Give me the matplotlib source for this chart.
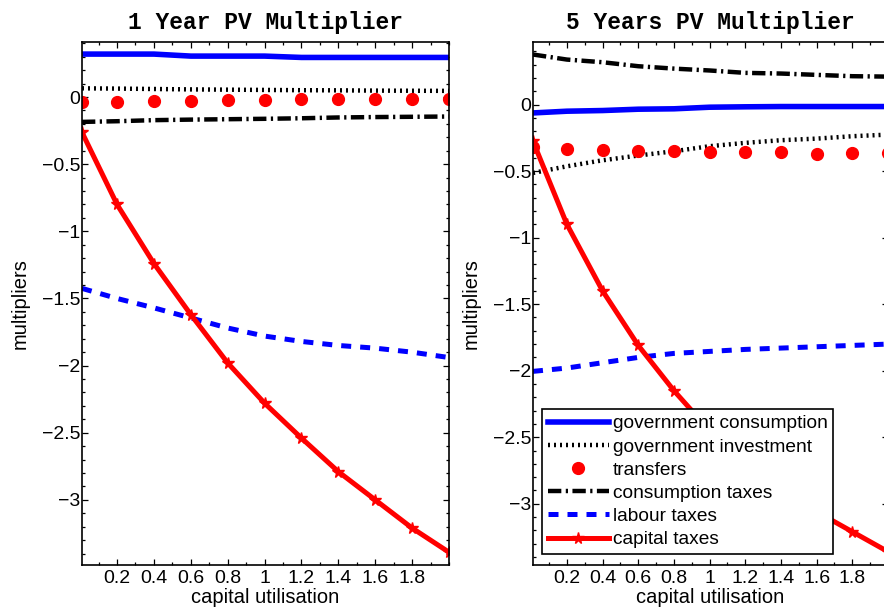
import matplotlib
matplotlib.use("Agg")
import matplotlib.pyplot as plt
from matplotlib.ticker import MultipleLocator, FixedLocator, FuncFormatter

plt.rcParams['font.family'] = ['Liberation Sans', 'DejaVu Sans']

# capital utilisation grid
util = [0.01, 0.2, 0.4, 0.6, 0.8, 1.0, 1.2, 1.4, 1.6, 1.8, 2.0]

# 1 year present-value multipliers
gov_cons_1y = [0.32, 0.32, 0.32, 0.305, 0.305, 0.305, 0.295, 0.295, 0.295, 0.295, 0.295]
gov_inv_1y = [0.065, 0.063, 0.06, 0.057, 0.055, 0.053, 0.051, 0.05, 0.048, 0.047, 0.046]
transfers_1y = [-0.035, -0.04, -0.03, -0.027, -0.022, -0.022, -0.017, -0.015, -0.015, -0.015, -0.017]
cons_tax_1y = [-0.185, -0.18, -0.172, -0.168, -0.165, -0.162, -0.158, -0.152, -0.149, -0.147, -0.145]
lab_tax_1y = [-1.425, -1.50, -1.57, -1.645, -1.72, -1.78, -1.82, -1.85, -1.87, -1.90, -1.94]
cap_tax_1y = [-0.263, -0.80, -1.24, -1.62, -1.98, -2.28, -2.54, -2.79, -3.00, -3.21, -3.39]

# 5 years present-value multipliers
gov_cons_5y = [-0.063, -0.05, -0.045, -0.035, -0.032, -0.02, -0.017, -0.015, -0.015, -0.015, -0.015]
gov_inv_5y = [-0.514, -0.464, -0.419, -0.383, -0.351, -0.313, -0.288, -0.268, -0.256, -0.238, -0.226]
transfers_5y = [-0.318, -0.333, -0.343, -0.35, -0.347, -0.358, -0.358, -0.358, -0.368, -0.363, -0.365]
cons_tax_5y = [0.376, 0.338, 0.318, 0.288, 0.27, 0.256, 0.238, 0.233, 0.223, 0.213, 0.21]
lab_tax_5y = [-2.005, -1.98, -1.94, -1.90, -1.87, -1.855, -1.84, -1.83, -1.82, -1.81, -1.80]
cap_tax_5y = [-0.276, -0.90, -1.40, -1.81, -2.15, -2.45, -2.70, -2.90, -3.06, -3.21, -3.36]

labels = ["government consumption", "government investment", "transfers",
          "consumption taxes", "labour taxes", "capital taxes"]
x_ticks = [0.2, 0.4, 0.6, 0.8, 1.0, 1.2, 1.4, 1.6, 1.8]
y_ticks = [0, -0.5, -1, -1.5, -2, -2.5, -3]

# '%g' labels with a proper minus sign
num_fmt = FuncFormatter(lambda v, pos: ('%g' % v).replace('-', '\u2212'))


def draw_panel(ax, series, title, ylim):
    gc, gi, tr, ct, lt, kt = series
    ax.plot(util, gc, color='blue', lw=4, label=labels[0])
    ax.plot(util, gi, color='black', lw=3.2, linestyle=(0, (0.45, 0.9)), label=labels[1])
    ax.plot(util, tr, color='red', linestyle='none', marker='o', ms=8.5, label=labels[2])
    ax.plot(util, ct, color='black', lw=3.2, linestyle=(0, (3.0, 1.0, 0.5, 1.0)), label=labels[3])
    ax.plot(util, lt, color='blue', lw=3.6, linestyle=(0, (2.0, 1.8)), label=labels[4])
    ax.plot(util, kt, color='red', lw=3.6, marker='*', ms=8.5, label=labels[5])

    ax.set_xlim(0.01, 2.0)
    ax.set_ylim(*ylim)
    ax.xaxis.set_major_locator(FixedLocator(x_ticks))
    ax.xaxis.set_minor_locator(MultipleLocator(0.1))
    ax.yaxis.set_major_locator(FixedLocator(y_ticks))
    ax.yaxis.set_minor_locator(MultipleLocator(0.1))
    ax.xaxis.set_major_formatter(num_fmt)
    ax.yaxis.set_major_formatter(num_fmt)
    ax.tick_params(which='both', direction='in', top=True, right=True,
                   labelsize=14, width=0.9, colors='black')
    ax.tick_params(axis='y', which='both', pad=1)
    ax.tick_params(axis='x', which='both', pad=3.5)
    ax.tick_params(which='major', length=4.5)
    ax.tick_params(which='minor', length=2.3)
    for sp in ax.spines.values():
        sp.set_linewidth(1.2)
    ax.set_title(title, family='Liberation Mono', weight='bold', fontsize=16.5, pad=9)
    ax.set_xlabel("capital utilisation", fontsize=14.5, labelpad=1)
    ax.set_ylabel("multipliers", fontsize=14.5, labelpad=9)


fig = plt.figure(figsize=(8.84, 6.09), dpi=100)
ax1 = fig.add_axes([82 / 884, 44 / 609, 367 / 884, 523 / 609])
ax2 = fig.add_axes([533 / 884, 44 / 609, 355 / 884, 523 / 609])

draw_panel(ax1, [gov_cons_1y, gov_inv_1y, transfers_1y, cons_tax_1y, lab_tax_1y, cap_tax_1y],
           "1 Year PV Multiplier", (-3.485, 0.41))
draw_panel(ax2, [gov_cons_5y, gov_inv_5y, transfers_5y, cons_tax_5y, lab_tax_5y, cap_tax_5y],
           "5 Years PV Multiplier", (-3.46, 0.47))

leg = ax2.legend(loc='lower left', bbox_to_anchor=(0.025, 0.021), borderaxespad=0,
                 fontsize=13.8, handlelength=3.2, handletextpad=0.2, labelspacing=0.3,
                 borderpad=0.3, fancybox=False, framealpha=1, edgecolor='black')
leg.get_frame().set_linewidth(1.2)

fig.savefig("out.png", dpi=100)
